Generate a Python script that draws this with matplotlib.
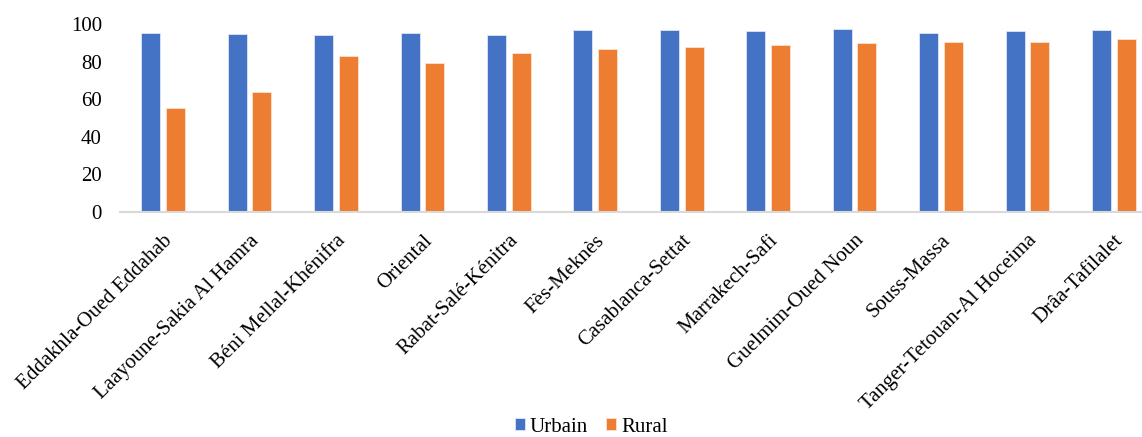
import matplotlib
matplotlib.use("Agg")
import matplotlib.pyplot as plt
import numpy as np

# Data
regions = ["Eddakhla-Oued Eddahab", "Laayoune-Sakia Al Hamra", "Béni Mellal-Khénifra",
           "Oriental", "Rabat-Salé-Kénitra", "Fès-Meknès", "Casablanca-Settat",
           "Marrakech-Safi", "Guelmim-Oued Noun", "Souss-Massa",
           "Tanger-Tetouan-Al Hoceima", "Drâa-Tafilalet"]
urbain = [95.4, 94.5, 94.3, 95.4, 94.3, 97.0, 96.6, 96.1, 97.3, 95.4, 96.1, 96.6]
rural = [55.4, 63.8, 82.8, 79.2, 84.5, 86.7, 87.7, 88.8, 89.9, 90.4, 90.6, 91.8]
yticks = [0, 20, 40, 60, 80, 100]

plt.rcParams['font.family'] = ['Liberation Serif', 'DejaVu Serif']

fig = plt.figure(figsize=(11.42, 4.37), dpi=100)
# plot area runs slightly past the right edge, as in the original
ax = fig.add_axes([120 / 1142, 1 - 211.7 / 437, 1037 / 1142, (211.7 - 24) / 437])

x = np.arange(len(regions))
w = 0.22
ax.bar(x - 0.143, urbain, w, color="#4472C4", edgecolor="#dfe6f5", linewidth=0.6, label="Urbain")
ax.bar(x + 0.143, rural, w, color="#ED7D31", edgecolor="#fbe2d2", linewidth=0.6, label="Rural")

ax.set_xlim(-0.5, len(regions) - 0.5)
ax.set_ylim(0, 100)
ax.set_yticks(yticks)
ax.tick_params(axis='y', length=0, labelsize=15, pad=13)
ax.tick_params(axis='x', length=0, labelsize=15, pad=14)
ax.set_xticks(x)
ax.set_xticklabels(regions, rotation=45, ha='right', va='top', rotation_mode='anchor')

for s in ['left', 'right', 'top']:
    ax.spines[s].set_visible(False)
ax.spines['bottom'].set_color('#D9D9D9')
ax.spines['bottom'].set_linewidth(1.5)

fig.legend(loc='center', bbox_to_anchor=(591 / 1142, 1 - 427 / 437), ncol=2, frameon=False,
           fontsize=15, handlelength=0.48, handleheight=0.48, handletextpad=0.25, columnspacing=0.85)

fig.savefig("out.png", dpi=100)
